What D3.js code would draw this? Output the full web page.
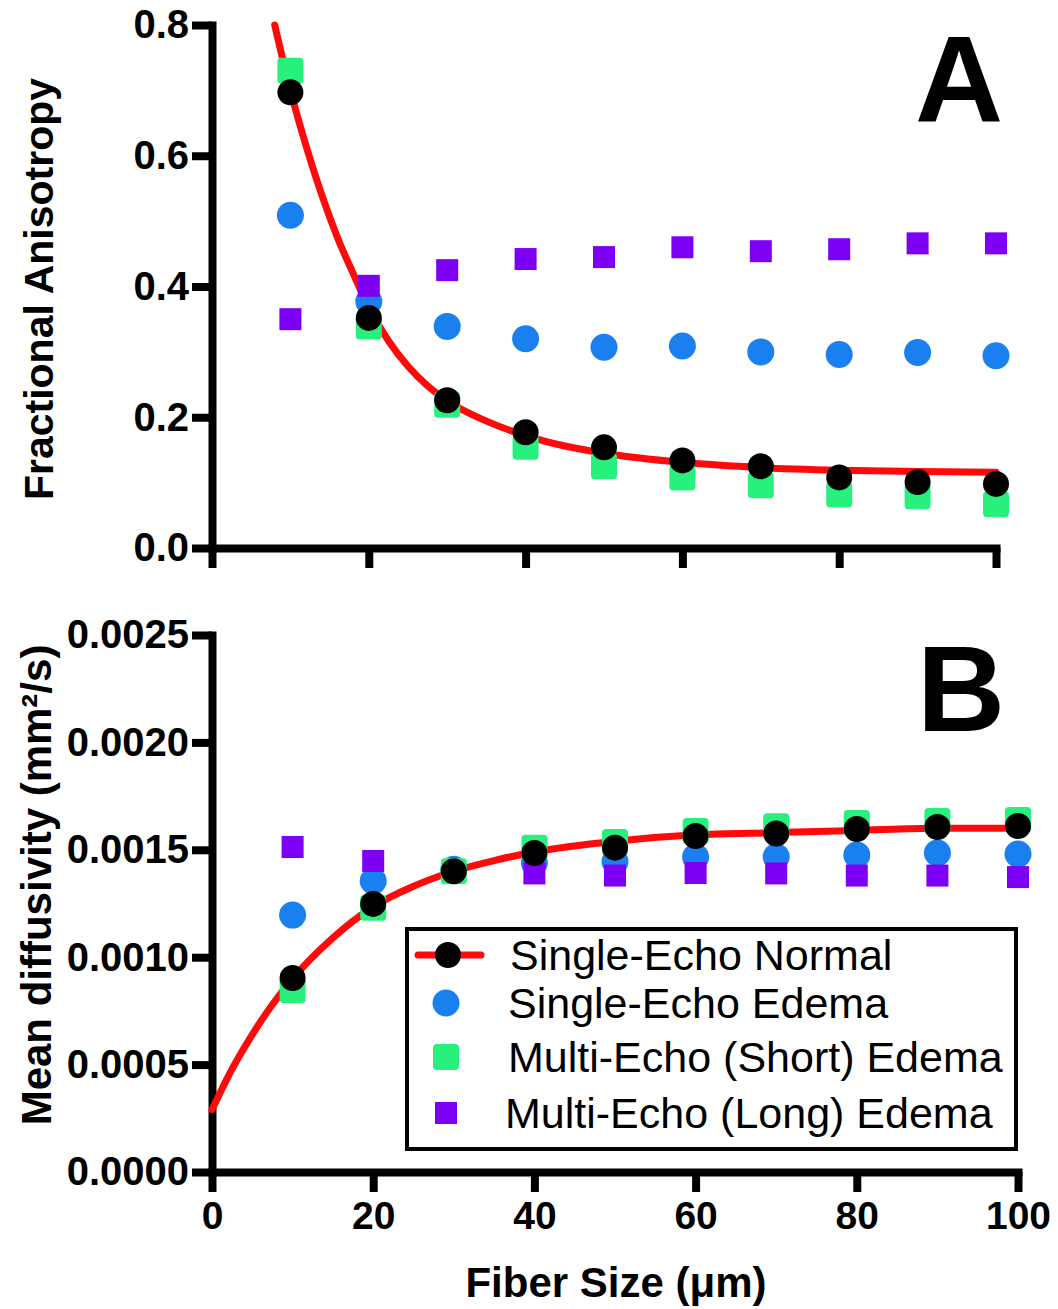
<!DOCTYPE html>
<html><head><meta charset="utf-8">
<script src="https://cdn.jsdelivr.net/npm/d3@7"></script>
<style>body{margin:0;background:#fff}svg{display:block}</style>
</head><body>
<svg id="chart" width="1058" height="1309"></svg>
<script>
// ---------- data ----------
const fiberSize = [10,20,30,40,50,60,70,80,90,100];
const seriesNames = ["Single-Echo Normal","Single-Echo Edema","Multi-Echo (Short) Edema","Multi-Echo (Long) Edema"];

const faSingleNormal = [0.697,0.352,0.226,0.177,0.154,0.134,0.125,0.108,0.101,0.098];
const faSingleEdema  = [0.509,0.377,0.339,0.320,0.307,0.309,0.300,0.296,0.299,0.294];
const faMultiShort   = [0.730,0.339,0.219,0.155,0.125,0.108,0.096,0.082,0.079,0.067];
const faMultiLong    = [0.350,0.401,0.425,0.442,0.445,0.460,0.454,0.457,0.466,0.466];
const faFitX = [8,10,12,14,16,18,20,22.5,25,27.5,30,35,40,45,50,60,70,80,90,100];
const faFitY = [0.80,0.70,0.615,0.54,0.475,0.42,0.368,0.317,0.278,0.248,0.225,0.194,0.172,0.156,0.145,0.131,0.123,0.119,0.117,0.116];

const mdSingleNormal = [0.000903,0.001248,0.001400,0.001485,0.001510,0.001564,0.001576,0.001597,0.001606,0.001611];
const mdSingleEdema  = [0.001196,0.001355,0.001410,0.001440,0.001445,0.001466,0.001468,0.001476,0.001485,0.001480];
const mdMultiShort   = [0.000847,0.001230,0.001400,0.001510,0.001536,0.001587,0.001610,0.001625,0.001634,0.001639];
const mdMultiLong    = [0.001513,0.001448,0.001400,0.001390,0.001380,0.001392,0.001390,0.001380,0.001380,0.001373];
const mdFitX = [0,2.5,5,7.5,10,15,20,25,30,35,40,50,60,70,80,90,100];
const mdFitY = [0.00029,0.00048,0.00064,0.00078,0.00090,0.00109,0.001235,0.00133,0.00140,0.00145,0.00149,0.00154,0.00157,0.00158,0.00159,0.00160,0.00160];

const xTicks = [0,20,40,60,80,100];
const faTicks = [0,0.2,0.4,0.6,0.8];
const mdTicks = [0,0.0005,0.0010,0.0015,0.0020,0.0025];
const panelLetters = ["A","B"];
const yTitles = ["Fractional Anisotropy","Mean diffusivity (mm\u00B2/s)"];
const xTitle = "Fiber Size (\u03BCm)";

// ---------- style ----------
const FONT = "'Liberation Sans', Arial, Helvetica, sans-serif";
const C = {red:"#ff0a0a", black:"#000000", blue:"#1a80f0", green:"#28f07c", purple:"#7d00f5"};

const svg = d3.select("#chart");
svg.append("rect").attr("width",1058).attr("height",1309).attr("fill","#fff");

function styleAxis(g, fontSize){
  g.select(".domain").attr("stroke","#000").attr("stroke-width",8).attr("stroke-linecap","square");
  g.selectAll(".tick line").attr("stroke","#000").attr("stroke-width",8);
  g.selectAll(".tick text").attr("font-family",FONT).attr("font-size",fontSize)
    .attr("font-weight","bold").attr("fill","#000");
}

function drawPanel(cfg){
  const x = d3.scaleLinear().domain([0,100]).range(cfg.xRange);
  const y = d3.scaleLinear().domain(cfg.yDomain).range(cfg.yRange);
  const g = svg.append("g");

  const xa = g.append("g").attr("transform",`translate(0,${cfg.yRange[0]})`)
    .call(d3.axisBottom(x).tickValues(xTicks).tickSize(20).tickSizeOuter(0).tickPadding(9)
      .tickFormat(cfg.showX ? d3.format("d") : () => ""));
  styleAxis(xa, 39);
  const ya = g.append("g").attr("transform",`translate(${cfg.xRange[0]},0)`)
    .call(d3.axisLeft(y).tickValues(cfg.yTicks).tickSize(20).tickSizeOuter(0).tickPadding(3)
      .tickFormat(d3.format(cfg.fmt)));
  styleAxis(ya, 40);

  const line = d3.line().x(d=>x(d[0])).y(d=>y(d[1])).curve(d3.curveMonotoneX);
  g.append("path").datum(d3.zip(cfg.fitX, cfg.fitY)).attr("d",line)
    .attr("fill","none").attr("stroke",C.red).attr("stroke-width",7).attr("stroke-linecap","round");

  g.selectAll(".se").data(d3.zip(fiberSize,cfg.edema)).join("circle")
    .attr("cx",d=>x(d[0])).attr("cy",d=>y(d[1])).attr("r",13.5).attr("fill",C.blue);
  g.selectAll(".ml").data(d3.zip(fiberSize,cfg.long)).join("rect")
    .attr("x",d=>x(d[0])-11).attr("y",d=>y(d[1])-11).attr("width",22).attr("height",22).attr("fill",C.purple);
  g.selectAll(".ms").data(d3.zip(fiberSize,cfg.short)).join("rect")
    .attr("x",d=>x(d[0])-13).attr("y",d=>y(d[1])-13).attr("width",26).attr("height",26).attr("rx",4).attr("fill",C.green);
  g.selectAll(".sn").data(d3.zip(fiberSize,cfg.normal)).join("circle")
    .attr("cx",d=>x(d[0])).attr("cy",d=>y(d[1])).attr("r",13).attr("fill",C.black);

  g.append("text").attr("x",cfg.letterX).attr("y",cfg.letterY).attr("text-anchor","middle")
    .attr("font-family",FONT).attr("font-weight","bold").attr("font-size",122).text(cfg.letter);

  g.append("text").attr("transform",`translate(${cfg.titleX},${cfg.titleY}) rotate(-90)`).attr("text-anchor","middle")
    .attr("font-family",FONT).attr("font-weight","bold").attr("font-size",cfg.titleSize).text(cfg.title);
  return {x,y,g};
}

drawPanel({xRange:[212,996], yRange:[548,25], yDomain:[0,0.8], yTicks:faTicks, fmt:".1f", showX:false,
  fitX:faFitX, fitY:faFitY, normal:faSingleNormal, edema:faSingleEdema, short:faMultiShort, long:faMultiLong,
  letter:panelLetters[0], letterX:959, letterY:122, title:yTitles[0], titleX:53, titleY:289, titleSize:41});

drawPanel({xRange:[212,1018], yRange:[1172,635], yDomain:[0,0.0025], yTicks:mdTicks, fmt:".4f", showX:true,
  fitX:mdFitX, fitY:mdFitY, normal:mdSingleNormal, edema:mdSingleEdema, short:mdMultiShort, long:mdMultiLong,
  letter:panelLetters[1], letterX:961, letterY:731, title:yTitles[1], titleX:51, titleY:885, titleSize:42});

svg.append("text").attr("x",616).attr("y",1297).attr("text-anchor","middle")
  .attr("font-family",FONT).attr("font-weight","bold").attr("font-size",42).text(xTitle);

// legend
const lg = svg.append("g");
lg.append("rect").attr("x",407).attr("y",929).attr("width",609).attr("height",220)
  .attr("fill","#fff").attr("stroke","#000").attr("stroke-width",4);
const rowY = [955,1003,1057,1113];
const textX = [510,508,508,505];
lg.append("line").attr("x1",418).attr("x2",481).attr("y1",rowY[0]).attr("y2",rowY[0])
  .attr("stroke",C.red).attr("stroke-width",7).attr("stroke-linecap","round");
lg.append("circle").attr("cx",448).attr("cy",rowY[0]).attr("r",13).attr("fill",C.black);
lg.append("circle").attr("cx",446).attr("cy",rowY[1]).attr("r",13.5).attr("fill",C.blue);
lg.append("rect").attr("x",433).attr("y",rowY[2]-13).attr("width",26).attr("height",26).attr("rx",4).attr("fill",C.green);
lg.append("rect").attr("x",435).attr("y",rowY[3]-11).attr("width",22).attr("height",22).attr("fill",C.purple);
lg.selectAll("text.lt").data(seriesNames).join("text")
  .attr("x",(d,i)=>textX[i]).attr("y",(d,i)=>rowY[i]+15)
  .attr("font-family",FONT).attr("font-size",43).attr("fill","#000").text(d=>d);
</script>
</body></html>
